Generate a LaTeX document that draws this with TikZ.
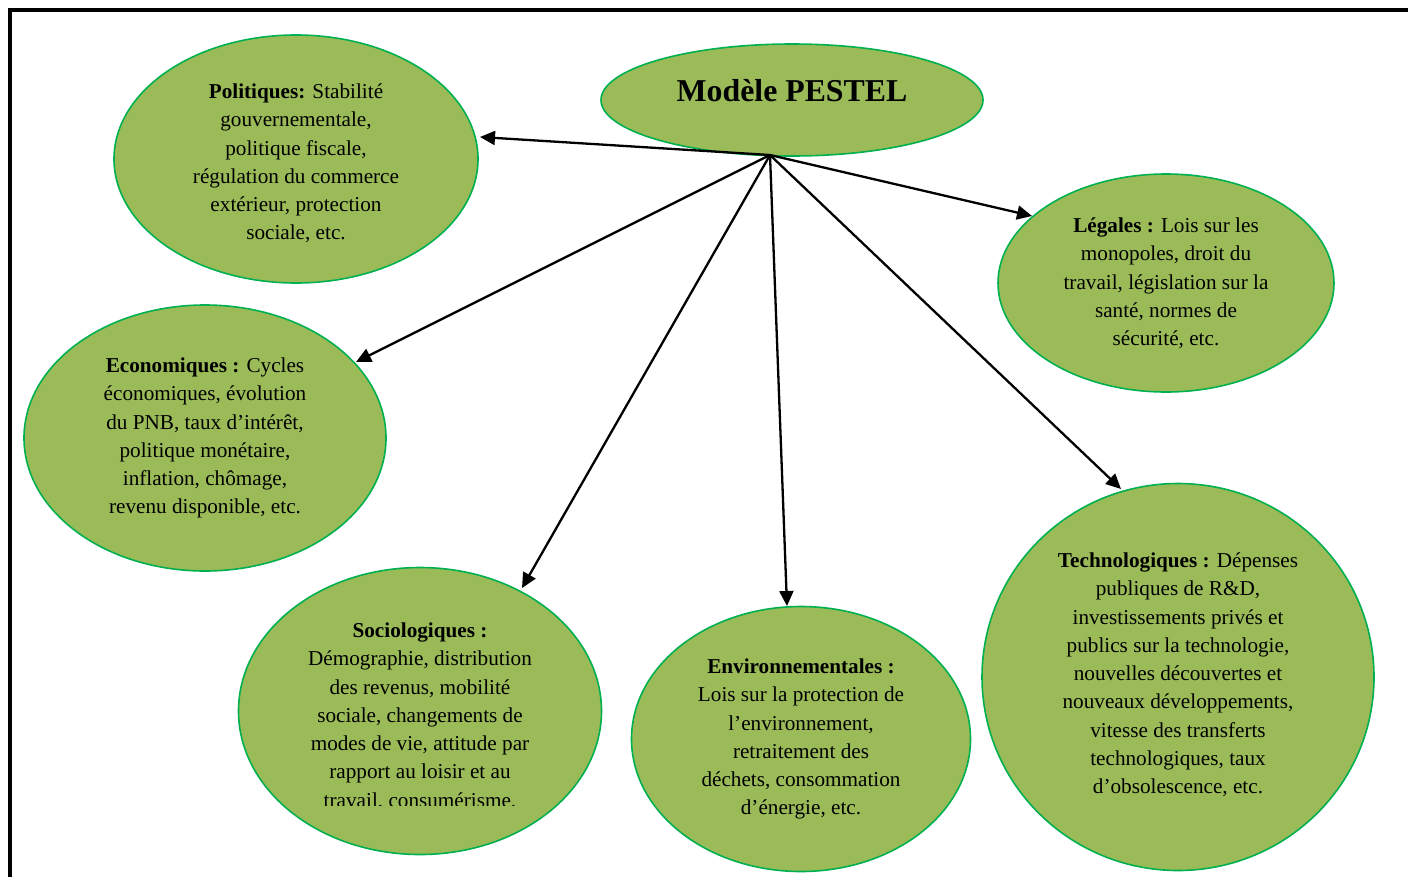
\documentclass[tikz,border=0pt]{standalone}
\usepackage{fontspec}
\setmainfont{Liberation Serif}
\usetikzlibrary{shapes.geometric,arrows.meta}
\definecolor{pfill}{RGB}{155,187,89}
\definecolor{pline}{RGB}{0,176,80}
\tikzset{
  oval/.style={ellipse, draw=pline, fill=pfill, line width=1.6pt, inner sep=0pt},
  body/.style={align=center, inner sep=0pt, anchor=north, font=\fontsize{21.2}{28.3}\selectfont},
  link/.style={line width=2.3pt, -{Triangle[length=15pt,width=14pt]}}
}
\begin{document}
\begin{tikzpicture}[x=1pt,y=-1pt]
\useasboundingbox (0,0) rectangle (1408,876);
\clip (0,0) rectangle (1408,876);
\fill[white] (0,0) rectangle (1408,876);
\draw[line width=3.5pt] (10,900) -- (10,10) -- (1420,10);

\node[oval, minimum width=382pt, minimum height=112pt] (title) at (792,100) {};
\node[anchor=base, inner sep=0pt, font=\fontsize{31.8}{36}\selectfont\bfseries] (titletext) at (792,101) {Modèle PESTEL};

\node[oval, minimum width=364pt, minimum height=248pt] (pol) at (296,159) {};
\node[body] (poltext) at (296,83.5) {\textbf{Politiques:} Stabilité\\gouvernementale,\\politique fiscale,\\régulation du commerce\\extérieur, protection\\sociale, etc.};

\node[oval, minimum width=362pt, minimum height=266pt] (eco) at (205,438) {};
\node[body] (ecotext) at (205,357.5) {\textbf{Economiques :} Cycles\\économiques, évolution\\du PNB, taux d’intérêt,\\politique monétaire,\\inflation, chômage,\\revenu disponible, etc.};

\node[oval, minimum width=336pt, minimum height=218pt] (leg) at (1166,283) {};
\node[body] (legtext) at (1166,217.5) {\textbf{Légales :} Lois sur les\\monopoles, droit du\\travail, législation sur la\\santé, normes de\\sécurité, etc.};

\node[oval, minimum width=363pt, minimum height=287pt] (soc) at (420,711) {};
\begin{scope}
\clip (240,600) rectangle (602,805);
\node[body] (soctext) at (420,622.5) {\textbf{Sociologiques :}\\Démographie, distribution\\des revenus, mobilité\\sociale, changements de\\modes de vie, attitude par\\rapport au loisir et au\\travail, consumérisme.};
\end{scope}

\node[oval, minimum width=339pt, minimum height=265pt] (env) at (801,739) {};
\node[body] (envtext) at (801,658.5) {\textbf{Environnementales :}\\Lois sur la protection de\\l’environnement,\\retraitement des\\déchets, consommation\\d’énergie, etc.};

\node[oval, minimum width=392pt, minimum height=387pt] (tech) at (1178,677) {};
\node[body] (techtext) at (1178,552.5) {\textbf{Technologiques :} Dépenses\\publiques de R\&D,\\investissements privés et\\publics sur la technologie,\\nouvelles découvertes et\\nouveaux développements,\\vitesse des transferts\\technologiques, taux\\d’obsolescence, etc.};

\coordinate (hub) at (770,155);
\coordinate (pe) at (480,137);
\coordinate (ee) at (356,362);
\coordinate (se) at (522,588);
\coordinate (ve) at (787,606);
\coordinate (le) at (1032,216);
\coordinate (te) at (1121,489);
\draw[link] (hub) -- (pe);
\draw[link] (hub) -- (ee);
\draw[link] (hub) -- (se);
\draw[link] (hub) -- (ve);
\draw[link] (hub) -- (le);
\draw[link] (hub) -- (te);
\end{tikzpicture}
\end{document}
